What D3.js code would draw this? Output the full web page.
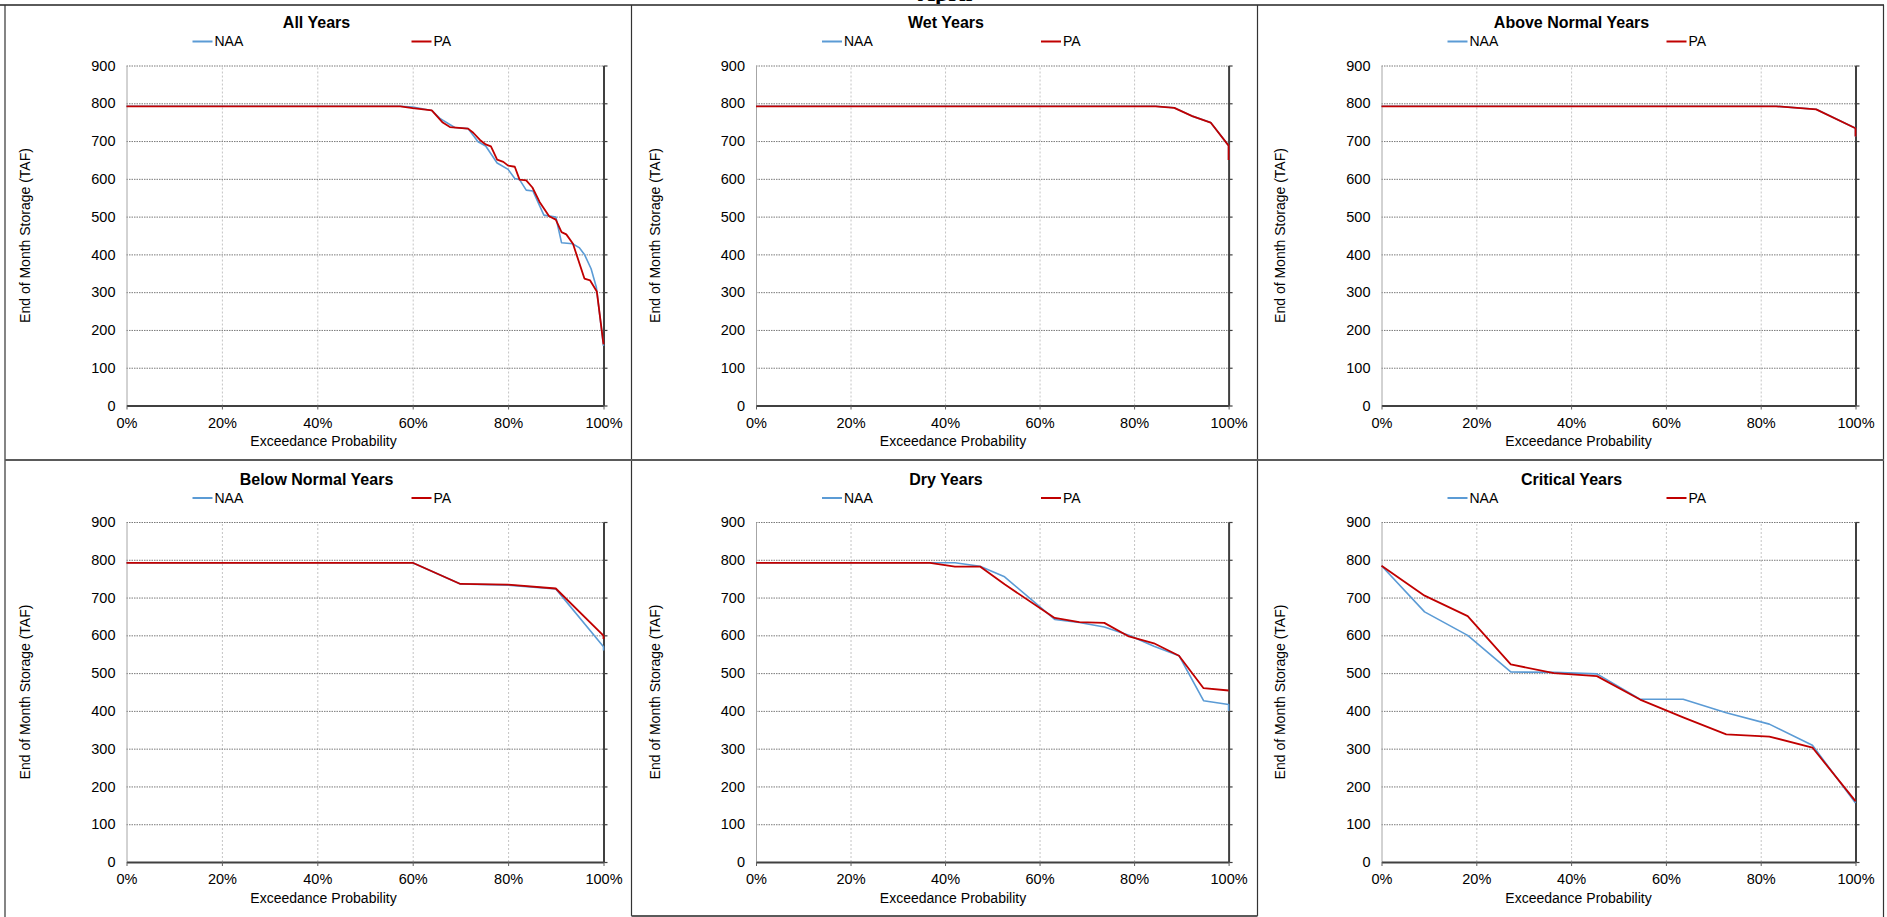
<!DOCTYPE html>
<html><head><meta charset="utf-8">
<script src="https://cdn.jsdelivr.net/npm/d3@7/dist/d3.min.js"></script>
<style>
html,body{margin:0;padding:0;background:#fff;overflow:hidden}
svg{display:block;font-family:"Liberation Sans",Arial,sans-serif}
</style></head><body>
<svg id="c" width="1887" height="917"></svg>
<script>
// ---------------- DATA ----------------
const pageTitle = "April";
const panelTitles = ["All Years","Wet Years","Above Normal Years","Below Normal Years","Dry Years","Critical Years"];
const seriesNames = ["NAA","PA"];
const yTickValues = [0,100,200,300,400,500,600,700,800,900];
const xTickValues = [0,0.2,0.4,0.6,0.8,1];
const yAxisTitle = "End of Month Storage (TAF)";
const xAxisTitle = "Exceedance Probability";

// [exceedance probability, storage TAF]
const allYearsNAA = [[0,792],[0.574,792],[0.60,790],[0.64,781],[0.657,760],[0.688,736],[0.716,733],[0.737,698],[0.753,687],[0.777,642],[0.80,625],[0.814,601],[0.824,598],[0.838,570],[0.852,568],[0.875,504],[0.90,499],[0.912,431],[0.935,428],[0.949,418],[0.96,400],[0.974,362],[0.985,313],[1.0,158]];
const allYearsPA  = [[0,792],[0.574,792],[0.60,787],[0.64,781],[0.663,749],[0.678,737],[0.716,733],[0.727,722],[0.741,703],[0.753,691],[0.764,686],[0.777,651],[0.79,645],[0.80,635],[0.814,632],[0.824,598],[0.838,596],[0.851,577],[0.866,539],[0.886,501],[0.90,492],[0.912,459],[0.922,453],[0.936,428],[0.96,336],[0.972,331],[0.986,302],[1.0,162]];
const wetNAA = [[0,792],[0.846,792],[0.885,788],[0.923,766],[0.962,749],[1.0,688],[1.0,650]];
const wetPA  = [[0,792],[0.846,792],[0.885,788],[0.923,766],[0.962,749],[1.0,688],[1.0,650]];
const aboveNormalNAA = [[0,792],[0.833,792],[0.917,784],[1.0,734],[1.0,712]];
const aboveNormalPA  = [[0,792],[0.833,792],[0.917,784],[1.0,734],[1.0,712]];
const belowNormalNAA = [[0,792],[0.6,792],[0.7,736],[0.8,733],[0.9,723],[1.0,570],[1.0,560]];
const belowNormalPA  = [[0,792],[0.6,792],[0.7,736],[0.8,734],[0.9,724],[1.0,599],[1.0,590]];
const dryNAA = [[0,792],[0.421,792],[0.474,783],[0.526,755],[0.632,642],[0.684,634],[0.737,622],[0.789,600],[0.842,571],[0.895,546],[0.947,427],[1.0,417],[1.0,400]];
const dryPA  = [[0,792],[0.368,792],[0.421,782],[0.474,782],[0.526,735],[0.632,646],[0.684,635],[0.737,633],[0.789,597],[0.842,579],[0.895,546],[0.947,460],[1.0,454]];
const criticalNAA = [[0,784],[0.0909,662],[0.1818,600],[0.2727,503],[0.3636,502],[0.4545,498],[0.5455,431],[0.6364,431],[0.7273,395],[0.8182,365],[0.9091,309],[1.0,156]];
const criticalPA  = [[0,784],[0.0909,705],[0.1818,651],[0.2727,523],[0.3636,500],[0.4545,492],[0.5455,430],[0.6364,383],[0.7273,338],[0.8182,332],[0.9091,303],[1.0,161]];

// ---------------- LAYOUT / STYLE ----------------
const colX0 = [126.5, 756, 1381.5];
const colW  = [477, 472.6, 474];
const rowY0 = [65.5, 522];
const plotH = 340;
const colors = {NAA:"#5b9bd5", PA:"#c00000"};

const svg = d3.select("#c");

// cut-off page title (drawn first so the frame line sits over it)
svg.append("text").attr("x",945).attr("y",1).attr("text-anchor","middle")
  .attr("font-family","'Liberation Serif',serif").attr("font-weight","bold").attr("font-size",24).text(pageTitle);

// panel frames
const frame = svg.append("g").attr("fill","none");
frame.append("rect").attr("x",0).attr("y",4).attr("width",1887).attr("height",913).attr("fill","#fff").attr("stroke","none");
frame.append("line").attr("x1",0).attr("x2",1884).attr("y1",5).attr("y2",5).attr("stroke","#5a5a5a").attr("stroke-width",2);
frame.append("line").attr("x1",5).attr("x2",5).attr("y1",5).attr("y2",917).attr("stroke","#333").attr("stroke-width",1.2);
frame.append("line").attr("x1",631.5).attr("x2",631.5).attr("y1",5).attr("y2",916).attr("stroke","#333").attr("stroke-width",1.2);
frame.append("line").attr("x1",1257.5).attr("x2",1257.5).attr("y1",5).attr("y2",916).attr("stroke","#333").attr("stroke-width",1.2);
frame.append("line").attr("x1",1883.5).attr("x2",1883.5).attr("y1",5).attr("y2",917).attr("stroke","#333").attr("stroke-width",1.2);
frame.append("line").attr("x1",5).attr("x2",1884).attr("y1",460).attr("y2",460).attr("stroke","#5a5a5a").attr("stroke-width",2);
frame.append("line").attr("x1",631.5).attr("x2",1257.5).attr("y1",916).attr("y2",916).attr("stroke","#5a5a5a").attr("stroke-width",2);

const panels = [
  {naa:allYearsNAA, pa:allYearsPA},
  {naa:wetNAA, pa:wetPA},
  {naa:aboveNormalNAA, pa:aboveNormalPA},
  {naa:belowNormalNAA, pa:belowNormalPA},
  {naa:dryNAA, pa:dryPA},
  {naa:criticalNAA, pa:criticalPA}
];

panels.forEach((p,i)=>{
  const col=i%3, row=Math.floor(i/3);
  const x0=colX0[col], w=colW[col], y0=rowY0[row], h=plotH;
  const x=d3.scaleLinear().domain([0,1]).range([x0,x0+w]);
  const y=d3.scaleLinear().domain([0,900]).range([y0+h,y0]);
  const g=svg.append("g");

  // vertical gridlines
  g.append("g").attr("transform",`translate(0,${y0+h})`)
    .call(d3.axisBottom(x).tickValues(xTickValues.slice(1,-1)).tickSize(-h).tickSizeOuter(0).tickFormat(""))
    .call(a=>{a.select(".domain").remove(); a.selectAll("line").attr("stroke","#c4c4c4").attr("stroke-dasharray","2,2");});
  // horizontal gridlines
  g.append("g").attr("transform",`translate(${x0},0)`)
    .call(d3.axisLeft(y).tickValues(yTickValues.slice(1)).tickSize(-w).tickSizeOuter(0).tickFormat(""))
    .call(a=>{a.select(".domain").remove(); a.selectAll("line").attr("stroke","#7a7a7a").attr("stroke-dasharray","1.5,1");});

  // left axis with labels
  g.append("g").attr("transform",`translate(${x0},0)`)
    .call(d3.axisLeft(y).tickValues(yTickValues).tickSize(0).tickSizeOuter(0).tickPadding(11))
    .call(a=>{a.select(".domain").attr("stroke","#a6a6a6");
      a.selectAll("text").attr("font-size",14.5).attr("fill","#000").attr("font-family","'Liberation Sans',Arial,sans-serif");});

  // right axis (dark, ticks outward)
  g.append("g").attr("transform",`translate(${x0+w},0)`)
    .call(d3.axisRight(y).tickValues(yTickValues).tickSize(4).tickSizeOuter(0).tickFormat(""))
    .call(a=>{a.select(".domain").attr("stroke","#404040").attr("stroke-width",2);
      a.selectAll("line").attr("stroke","#404040").attr("stroke-width",1.2);});

  // bottom axis
  g.append("g").attr("transform",`translate(0,${y0+h})`)
    .call(d3.axisBottom(x).tickValues(xTickValues).tickSize(4).tickSizeOuter(0).tickPadding(8).tickFormat(d3.format(".0%")))
    .call(a=>{a.select(".domain").attr("stroke","#404040").attr("stroke-width",2);
      a.selectAll("line").attr("stroke","#606060");
      a.selectAll("text").attr("font-size",14.5).attr("fill","#000").attr("font-family","'Liberation Sans',Arial,sans-serif");});

  // series lines
  const line=d3.line().x(d=>x(d[0])).y(d=>y(d[1]));
  g.append("path").datum(p.naa).attr("d",line).attr("fill","none").attr("stroke",colors.NAA).attr("stroke-width",1.6).attr("stroke-linejoin","round");
  g.append("path").datum(p.pa).attr("d",line).attr("fill","none").attr("stroke",colors.PA).attr("stroke-width",1.8).attr("stroke-linejoin","round");

  // titles
  g.append("text").attr("x",x0+190).attr("y",y0-43).attr("dy","0.35em").attr("text-anchor","middle")
    .attr("font-size",16).attr("font-weight","bold").text(panelTitles[i]);
  // legend
  const ly=y0-24;
  [[seriesNames[0],66],[seriesNames[1],285]].forEach(([name,off])=>{
    g.append("line").attr("x1",x0+off).attr("x2",x0+off+20).attr("y1",ly).attr("y2",ly)
      .attr("stroke",colors[name]).attr("stroke-width",2);
    g.append("text").attr("x",x0+off+22).attr("y",ly).attr("dy","0.35em").attr("font-size",14).text(name);
  });
  // axis titles
  g.append("text").attr("transform",`translate(${x0-101},${y0+h/2}) rotate(-90)`).attr("dy","0.35em")
    .attr("text-anchor","middle").attr("font-size",14).text(yAxisTitle);
  g.append("text").attr("x",x0+197).attr("y",y0+h+36).attr("dy","0.35em")
    .attr("text-anchor","middle").attr("font-size",14).text(xAxisTitle);
});
</script>
</body></html>
